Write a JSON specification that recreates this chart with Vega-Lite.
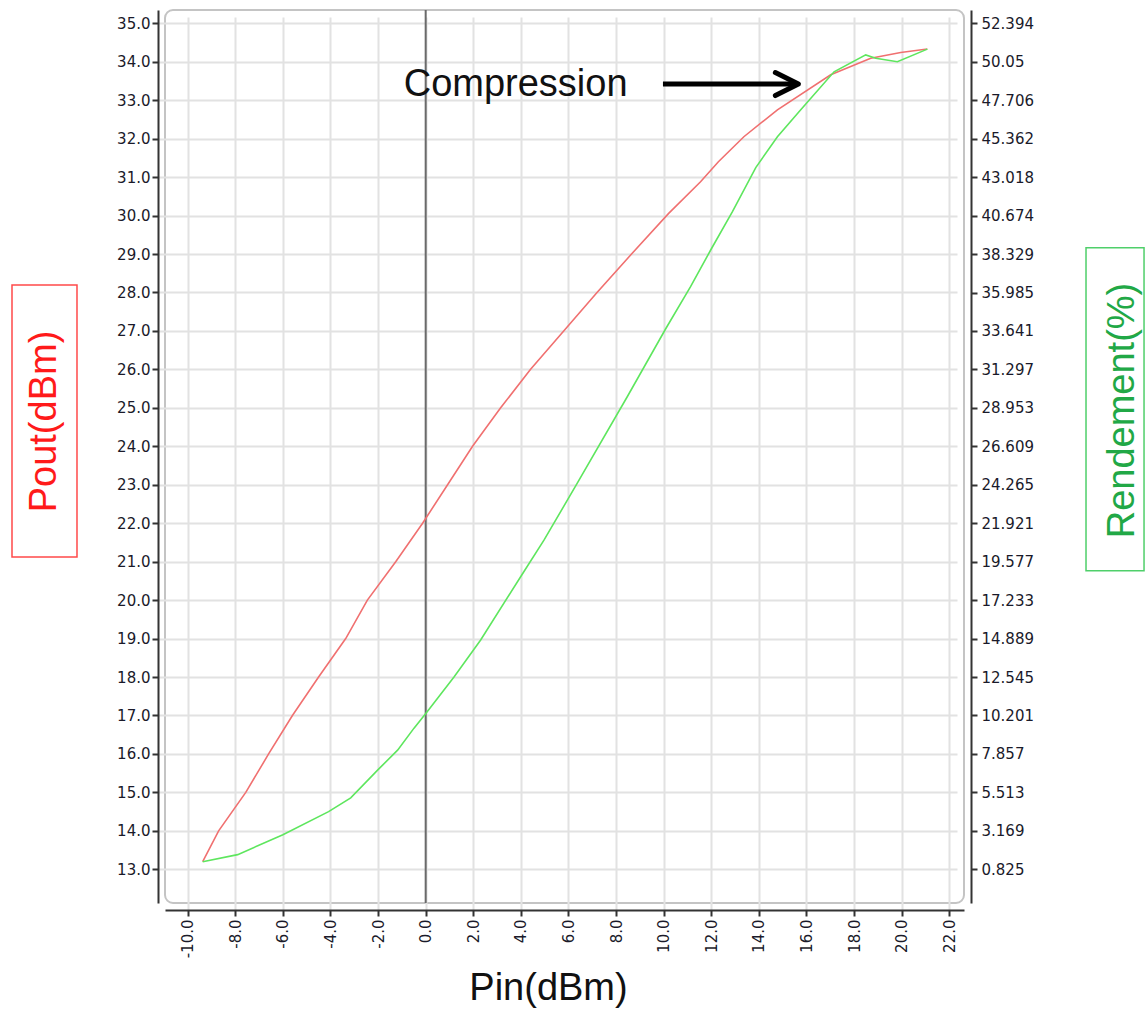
{
  "$schema": "https://vega.github.io/schema/vega-lite/v6.json",
  "width": 799,
  "height": 893,
  "autosize": "none",
  "padding": {"left": 165, "top": 10, "right": 182, "bottom": 109},
  "background": "white",
  "config": {
    "view": {"stroke": "#c4c4c4", "strokeWidth": 2, "cornerRadius": 8},
    "font": "Liberation Sans",
    "axis": {
      "domainColor": "#333333",
      "domainWidth": 2,
      "tickColor": "#333333",
      "tickWidth": 2,
      "tickSize": 6,
      "labelColor": "#1a1a2a",
      "labelFont": "DejaVu Sans",
      "labelFontSize": 15,
      "gridColor": "#e2e2e2",
      "gridWidth": 2,
      "titleFont": "Liberation Sans",
      "titleFontWeight": "normal",
      "titleFontSize": 38,
      "offset": 7
    }
  },
  "datasets": {
    "pout": [
      {"pin": -9.37, "pout": 13.2}, {"pin": -8.7, "pout": 14.0}, {"pin": -7.56, "pout": 15.0},
      {"pin": -6.6, "pout": 16.0}, {"pin": -5.6, "pout": 17.0}, {"pin": -4.5, "pout": 18.0},
      {"pin": -3.36, "pout": 19.0}, {"pin": -2.45, "pout": 20.0}, {"pin": -1.26, "pout": 21.0},
      {"pin": -0.13, "pout": 22.0}, {"pin": 0.92, "pout": 23.0}, {"pin": 1.97, "pout": 24.0},
      {"pin": 3.15, "pout": 25.0}, {"pin": 4.4, "pout": 26.0}, {"pin": 5.8, "pout": 27.0},
      {"pin": 7.2, "pout": 28.0}, {"pin": 8.65, "pout": 29.0}, {"pin": 10.2, "pout": 30.05},
      {"pin": 11.55, "pout": 30.88}, {"pin": 12.3, "pout": 31.4}, {"pin": 13.37, "pout": 32.05},
      {"pin": 14.78, "pout": 32.75}, {"pin": 17.02, "pout": 33.66}, {"pin": 18.7, "pout": 34.09},
      {"pin": 19.96, "pout": 34.24}, {"pin": 21.08, "pout": 34.33}
    ],
    "rend": [
      {"pin": -9.37, "eff": 1.29}, {"pin": -7.9, "eff": 1.72}, {"pin": -6.0, "eff": 2.93},
      {"pin": -4.08, "eff": 4.34}, {"pin": -3.15, "eff": 5.18}, {"pin": -2.0, "eff": 6.9},
      {"pin": -1.18, "eff": 8.09}, {"pin": -0.49, "eff": 9.43}, {"pin": 0.07, "eff": 10.44},
      {"pin": 1.19, "eff": 12.55}, {"pin": 2.31, "eff": 14.8}, {"pin": 3.99, "eff": 18.66},
      {"pin": 4.97, "eff": 20.89}, {"pin": 6.37, "eff": 24.36}, {"pin": 8.47, "eff": 29.63},
      {"pin": 10.08, "eff": 33.76}, {"pin": 11.13, "eff": 36.34}, {"pin": 11.97, "eff": 38.56},
      {"pin": 12.89, "eff": 40.91}, {"pin": 13.87, "eff": 43.6}, {"pin": 14.78, "eff": 45.48},
      {"pin": 15.76, "eff": 47.12}, {"pin": 17.16, "eff": 49.44}, {"pin": 18.49, "eff": 50.47},
      {"pin": 18.91, "eff": 50.26}, {"pin": 19.82, "eff": 50.05}, {"pin": 21.08, "eff": 50.82}
    ],
    "note": [{"note": "Compression"}]
  },
  "layer": [
    {
      "layer": [
        {
          "data": {"name": "note"},
          "mark": {"type": "rule", "color": "#6a6a6a", "strokeWidth": 2},
          "encoding": {"x": {"datum": 0, "type": "quantitative"}}
        },
        {
          "data": {"name": "pout"},
          "mark": {"type": "line", "color": "#f07070", "strokeWidth": 1.6},
          "encoding": {
            "x": {
              "field": "pin", "type": "quantitative",
              "scale": {"domain": [-10.954, 22.62], "nice": false, "zero": false},
              "axis": {
                "orient": "bottom",
                "values": [-10,-9,-8,-7,-6,-5,-4,-3,-2,-1,0,1,2,3,4,5,6,7,8,9,10,11,12,13,14,15,16,17,18,19,20,21,22],
                "labelExpr": "datum.value % 2 == 0 ? datum.value + '.0' : ''",
                "labelAngle": 270,
                "labelPadding": 3,
                "labelOverlap": false,
                "labelFlush": false,
                "labelBound": false,
                "tickOpacity": {"condition": {"test": "datum.value % 2 != 0", "value": 0}, "value": 1},
                "grid": true,
                "title": "Pin(dBm)",
                "titleColor": "#111111",
                "titleX": 383,
                "titleY": 78,
                "titleAlign": "center",
                "titleBaseline": "middle"
              }
            },
            "y": {
              "field": "pout", "type": "quantitative",
              "scale": {"domain": [12.124, 35.346], "nice": false, "zero": false},
              "axis": {
                "orient": "left",
                "values": [13,14,15,16,17,18,19,20,21,22,23,24,25,26,27,28,29,30,31,32,33,34,35],
                "format": ".1f",
                "labelPadding": 2,
                "labelOverlap": false,
                "labelFlush": false,
                "grid": true,
                "title": "Pout(dBm)",
                "titleColor": "#ff1a1a",
                "titleAngle": 270,
                "titleX": -114,
                "titleY": 411,
                "titleAlign": "center",
                "titleBaseline": "middle"
              }
            }
          }
        },
        {
          "data": {"name": "note"},
          "mark": {"type": "text", "align": "left", "baseline": "alphabetic", "fontSize": 38, "color": "#111111", "font": "Liberation Sans"},
          "encoding": {
            "x": {"datum": -0.924, "type": "quantitative"},
            "y": {"datum": 33.11, "type": "quantitative"},
            "text": {"field": "note"}
          }
        },
        {
          "data": {"name": "note"},
          "mark": {"type": "rule", "color": "#000000", "strokeWidth": 5},
          "encoding": {
            "x": {"datum": 9.97, "type": "quantitative"},
            "x2": {"datum": 15.5},
            "y": {"datum": 33.42, "type": "quantitative"}
          }
        },
        {
          "data": {"name": "note"},
          "mark": {"type": "point", "shape": "M-2,-1L0,0L-2,1", "size": 529, "filled": false, "color": "#000000", "strokeWidth": 5, "strokeJoin": "round", "strokeCap": "round", "opacity": 1},
          "encoding": {
            "x": {"datum": 15.66, "type": "quantitative"},
            "y": {"datum": 33.42, "type": "quantitative"}
          }
        },
        {
          "data": {"name": "note"},
          "mark": {"type": "rect", "filled": false, "color": "#ff4a4a", "strokeWidth": 1.5},
          "encoding": {
            "x": {"datum": -17.383, "type": "quantitative"},
            "x2": {"datum": -14.652},
            "y": {"datum": 28.196, "type": "quantitative"},
            "y2": {"datum": 21.122}
          }
        }
      ]
    },
    {
      "layer": [
        {
          "data": {"name": "rend"},
          "mark": {"type": "line", "color": "#5ee65e", "strokeWidth": 1.6},
          "encoding": {
            "x": {"field": "pin", "type": "quantitative"},
            "y": {
              "field": "eff", "type": "quantitative",
              "scale": {"domain": [-1.2284, 53.205], "nice": false, "zero": false},
              "axis": {
                "orient": "right",
                "values": [0.825,3.169,5.513,7.857,10.201,12.545,14.889,17.233,19.577,21.921,24.265,26.609,28.953,31.297,33.641,35.985,38.329,40.674,43.018,45.362,47.706,50.05,52.394],
                "labelExpr": "datum.value + ''",
                "labelPadding": 4,
                "labelOverlap": false,
                "labelFlush": false,
                "grid": false,
                "title": "Rendement(%)",
                "titleColor": "#21a846",
                "titleAngle": 270,
                "titleX": 151,
                "titleY": 400,
                "titleAlign": "center",
                "titleBaseline": "middle"
              }
            }
          }
        },
        {
          "data": {"name": "note"},
          "mark": {"type": "rect", "filled": false, "color": "#4fcf6a", "strokeWidth": 1.5},
          "encoding": {
            "x": {"datum": 27.747, "type": "quantitative"},
            "x2": {"datum": 30.185},
            "y": {"datum": 38.716, "type": "quantitative"},
            "y2": {"datum": 19.024}
          }
        }
      ]
    }
  ],
  "resolve": {"scale": {"y": "independent"}}
}
